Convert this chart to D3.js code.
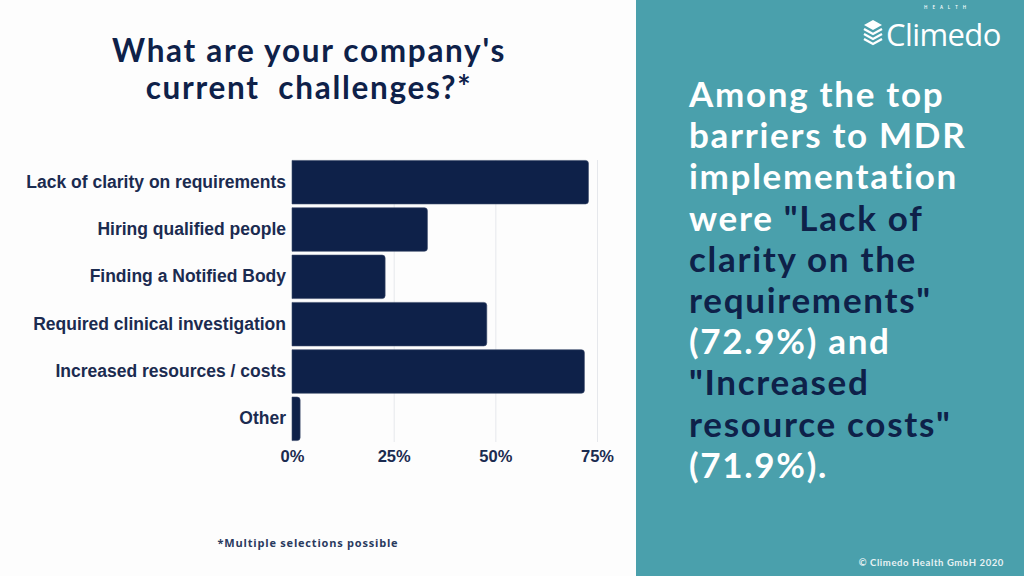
<!DOCTYPE html>
<html><head><meta charset="utf-8">
<script src="https://cdn.jsdelivr.net/npm/d3@7"></script>
<style>
html,body{margin:0;padding:0;background:#fdfdfd;}
svg{display:block;}
</style></head>
<body>
<svg id="chart" width="1024" height="576"></svg>
<script>
const categories = ["Lack of clarity on requirements","Hiring qualified people","Finding a Notified Body","Required clinical investigation","Increased resources / costs","Other"];
const values = [72.9, 33.3, 22.9, 47.9, 71.9, 2.0];
const tickValues = [0, 25, 50, 75];
const titleLines = ["What are your company's", "current  challenges?*"];
const sideLines = [
  [["Among the top", "w"]],
  [["barriers to MDR", "w"]],
  [["implementation", "w"]],
  [["were ", "w"], ["\"Lack of", "n"]],
  [["clarity on the", "n"]],
  [["requirements\"", "n"]],
  [["(72.9%) and", "w"]],
  [["\"Increased", "n"]],
  [["resource costs\"", "n"]],
  [["(71.9%).", "w"]]
];

const navy = "#0e2149";
const teal = "#4aa0ac";
const svg = d3.select("#chart");

svg.append("rect").attr("x",0).attr("y",0).attr("width",636).attr("height",576).attr("fill","#fdfdfd");
svg.append("rect").attr("x",636).attr("y",0).attr("width",388).attr("height",576).attr("fill",teal);

// Title
svg.append("text").attr("x",309).attr("y",62).attr("text-anchor","middle")
  .attr("font-family","Lato, sans-serif").attr("font-weight",700).attr("font-size",31.5)
  .attr("letter-spacing",1.7).attr("fill",navy)
  .selectAll("tspan").data(titleLines).join("tspan")
  .attr("x",309).attr("dy",(d,i)=>i===0?0:37).text(d=>d).style("white-space","pre");

// Scales
const x = d3.scaleLinear().domain([0,75]).range([292,597]);
const y = d3.scaleBand().domain(categories).range([159,442]).paddingInner(0.08).paddingOuter(0.03);

// grid
const grid = svg.append("g").attr("transform","translate(0,442)")
  .call(d3.axisBottom(x).tickValues(tickValues.slice(1)).tickSize(-282).tickFormat(""));
grid.select(".domain").remove();
grid.selectAll("line").attr("stroke","#e6e8ec").attr("stroke-width",1);

// bars (rounded right side)
function barPath(x0,x1,y0,h,r){
  r = Math.min(r,(x1-x0)/2,h/2);
  return `M${x0},${y0}H${x1-r}Q${x1},${y0} ${x1},${y0+r}V${y0+h-r}Q${x1},${y0+h} ${x1-r},${y0+h}H${x0}Z`;
}
svg.append("g").selectAll("path").data(categories).join("path")
  .attr("d",(d,i)=>barPath(x(0),x(values[i]),y(d),y.bandwidth(),3))
  .attr("fill",navy).attr("stroke","#3a4a6a").attr("stroke-width",0.6);

// category labels
const yAx = svg.append("g").attr("transform","translate(292,0)")
  .call(d3.axisLeft(y).tickSize(0).tickPadding(6));
yAx.select(".domain").remove();
yAx.selectAll("text").attr("font-family","'Liberation Sans', Arial, sans-serif").attr("font-weight",700)
  .attr("font-size",17.5).attr("fill","#1b2b50");

// x tick labels
const xAx = svg.append("g").attr("transform","translate(0,444)")
  .call(d3.axisBottom(x).tickValues(tickValues).tickSize(0).tickPadding(6).tickFormat(d=>d+"%"));
xAx.select(".domain").remove();
xAx.selectAll("text").attr("font-family","'Liberation Sans', Arial, sans-serif").attr("font-weight",700)
  .attr("font-size",16.5).attr("fill","#1b2b50");

// footnote
svg.append("text").attr("x",308).attr("y",547).attr("text-anchor","middle")
  .attr("font-family","'Open Sans', sans-serif").attr("font-weight",700).attr("font-size",11)
  .attr("letter-spacing",0.8).attr("fill","#2a3a5e").text("*Multiple selections possible");

// side text
const side = svg.append("text").attr("font-family","Lato, sans-serif").attr("font-weight",700)
  .attr("font-size",35).attr("letter-spacing",1.7);
sideLines.forEach((line,i)=>{
  line.forEach((seg,j)=>{
    const t = side.append("tspan").text(seg[0]).attr("fill",seg[1]==="w"?"#ffffff":navy).style("white-space","pre");
    if(j===0) t.attr("x",689).attr("y",107+i*41.2);
  });
});

// copyright
svg.append("text").attr("x",1004).attr("y",566).attr("text-anchor","end")
  .attr("font-family","Lato, sans-serif").attr("font-weight",700).attr("font-size",9.5)
  .attr("letter-spacing",0.6).attr("fill","#e8f2f4").text("© Climedo Health GmbH 2020");

// logo
const logo = svg.append("g");
const cx = 873, cy = 31;
logo.append("path").attr("d",`M${cx},${cy-11} L${cx+9},${cy-6} L${cx},${cy-1} L${cx-9},${cy-6} Z`).attr("fill","#fff");
logo.append("path").attr("d",`M${cx-9},${cy-2} L${cx},${cy+3} L${cx+9},${cy-2}`).attr("fill","none").attr("stroke","#fff").attr("stroke-width",2.4);
logo.append("path").attr("d",`M${cx-9},${cy+3} L${cx},${cy+8} L${cx+9},${cy+3}`).attr("fill","none").attr("stroke","#fff").attr("stroke-width",2.4);
logo.append("path").attr("d",`M${cx-9},${cy+8} L${cx},${cy+13} L${cx+9},${cy+8}`).attr("fill","none").attr("stroke","#fff").attr("stroke-width",2.4);
logo.append("text").attr("x",886).attr("y",46).attr("font-family","'Open Sans', sans-serif").attr("font-weight",400)
  .attr("font-size",31).attr("letter-spacing",-0.6).attr("fill","#fff").text("Climedo");
logo.append("text").attr("x",924).attr("y",9).attr("font-family","'Open Sans', sans-serif").attr("font-weight",600)
  .attr("font-size",4.5).attr("letter-spacing",5).attr("fill","#fff").text("HEALTH");
</script>
</body></html>
